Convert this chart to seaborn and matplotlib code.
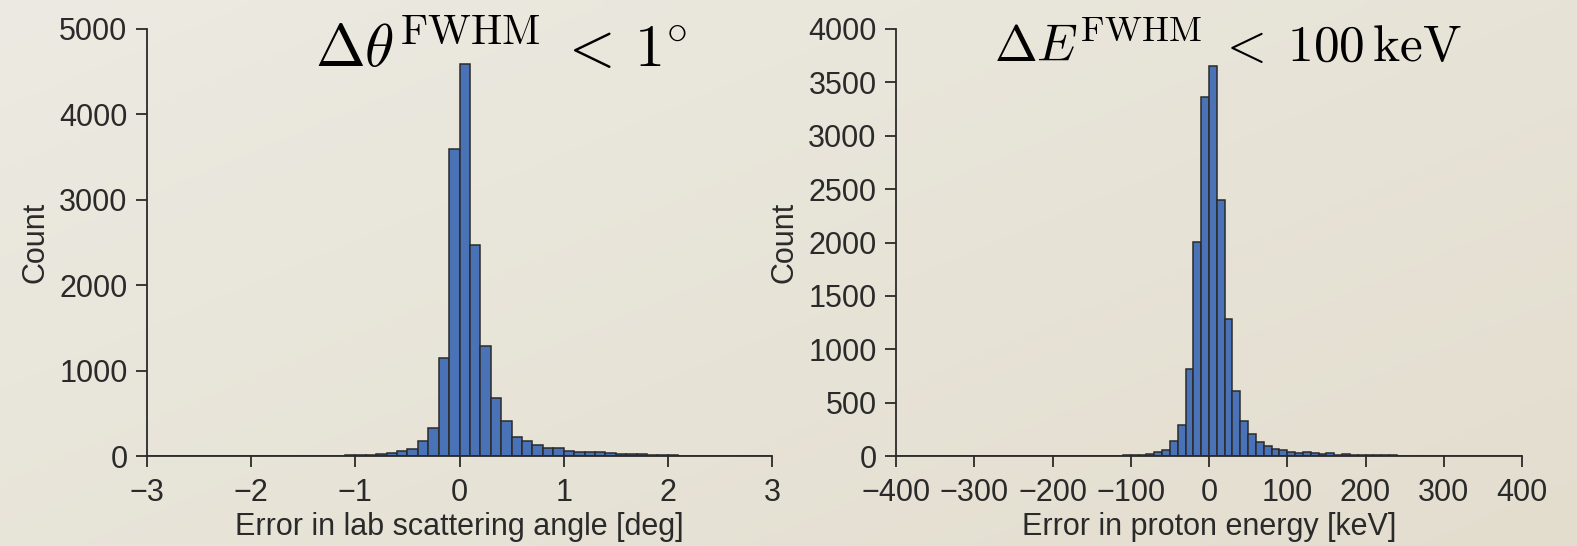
import numpy as np
import pandas as pd
import matplotlib
matplotlib.use("Agg")
import matplotlib.pyplot as plt
import seaborn as sns

# ---- data ----
angle_edges_lim = (-3.0, 3.0)
angle_bin_width = 0.1
angle_counts = [
    0, 0, 0, 0, 1, 0, 0, 1, 0, 1,
    1, 1, 1, 2, 2, 2, 3, 3, 4, 6,
    10, 16, 23, 35, 62, 82, 176, 332, 1145, 3600,
    4590, 2465, 1293, 680, 414, 219, 175, 123, 98, 92,
    64, 46, 43, 42, 31, 21, 20, 19, 12, 8,
    6, 5, 4, 3, 3, 2, 2, 1, 1, 1,
]
energy_edges_lim = (-400, 400)
energy_bin_width = 10
energy_counts = [
    0, 0, 0, 0, 0, 0, 0, 0, 0, 0,
    0, 0, 0, 1, 0, 1, 0, 1, 1, 1,
    1, 1, 2, 1, 2, 2, 3, 3, 4, 5,
    9, 12, 22, 34, 56, 144, 293, 815, 2001, 3360,
    3650, 2394, 1286, 608, 325, 206, 135, 98, 67, 53,
    40, 25, 33, 28, 19, 25, 9, 19, 9, 7,
    6, 6, 5, 5, 4, 4, 3, 3, 2, 2,
    2, 1, 1, 1, 1, 1, 0, 1, 0, 0,
]
angle_ticks = [-3, -2, -1, 0, 1, 2, 3]
angle_yticks = [0, 1000, 2000, 3000, 4000, 5000]
energy_ticks = [-400, -300, -200, -100, 0, 100, 200, 300, 400]
energy_yticks = [0, 500, 1000, 1500, 2000, 2500, 3000, 3500, 4000]
left_title = r"$\Delta\theta^{\mathrm{FWHM}}\;<\,1^{\circ}$"
right_title = r"$\Delta E^{\mathrm{FWHM}}\;<\;100\,\mathrm{keV}$"
left_xlabel = "Error in lab scattering angle [deg]"
right_xlabel = "Error in proton energy [keV]"

# ---- style ----
sns.set_theme(style="ticks")
plt.rcParams["font.family"] = ["Liberation Sans", "DejaVu Sans"]
plt.rcParams["mathtext.fontset"] = "cm"
plt.rcParams["axes.unicode_minus"] = True

BG = "#e9e5da"
BAR = "#4a72b6"
EDGE = "#2b2b2b"
INK = "#2a2a2a"
FS = 22

W, H = 1577, 546
fig = plt.figure(figsize=(W / 100, H / 100), dpi=100, facecolor=BG)

# subtle paper gradient
gy, gx = np.mgrid[0:1:60j, 0:1:160j]
grad = 0.55 * gx + 0.45 * gy
c0 = np.array([0.925, 0.918, 0.885])
c1 = np.array([0.890, 0.868, 0.808])
img = c0[None, None, :] * (1 - grad[..., None]) + c1[None, None, :] * grad[..., None]
bg_ax = fig.add_axes([0, 0, 1, 1], zorder=-10)
bg_ax.imshow(img, aspect="auto", extent=[0, 1, 0, 1], interpolation="bilinear", origin="upper")
bg_ax.axis("off")


def make_df(lim, width, counts):
    n = len(counts)
    centers = [lim[0] + width * (i + 0.5) for i in range(n)]
    return pd.DataFrame({"x": centers, "w": [float(c) for c in counts]})


bottom = 1 - 456 / H
top = 1 - 29 / H
ax1 = fig.add_axes([147 / W, bottom, (772 - 147) / W, top - bottom])
ax2 = fig.add_axes([896 / W, bottom, (1522 - 896) / W, top - bottom])

panels = [
    (ax1, angle_edges_lim, angle_bin_width, angle_counts, angle_ticks, angle_yticks,
     (0, 5000), left_xlabel, left_title, (0.269, 0.909), 43),
    (ax2, energy_edges_lim, energy_bin_width, energy_counts, energy_ticks, energy_yticks,
     (0, 4000), right_xlabel, right_title, (0.156, 0.923), 37),
]

for ax, lim, bw, counts, xt, yt, ylim, xlabel, title, tpos, tsize in panels:
    df = make_df(lim, bw, counts)
    ax.patch.set_alpha(0)
    sns.histplot(data=df, x="x", weights="w", binwidth=bw, binrange=lim, ax=ax,
                 color=BAR, edgecolor=EDGE, linewidth=1.1, alpha=1.0)
    ax.set_xlim(*lim)
    ax.set_ylim(*ylim)
    ax.set_xticks(xt)
    ax.set_yticks(yt)
    ax.set_xlabel(xlabel, fontsize=FS, color=INK, labelpad=3)
    ax.set_ylabel("Count", fontsize=FS, color=INK, labelpad=6)
    ax.tick_params(axis="both", labelsize=FS, colors=INK, length=8, width=1.3)
    ax.tick_params(axis="x", pad=8)
    ax.tick_params(axis="y", pad=6)
    for s in ("left", "bottom"):
        ax.spines[s].set_color(INK)
        ax.spines[s].set_linewidth(1.3)
    sns.despine(ax=ax)
    ax.text(tpos[0], tpos[1], title, transform=ax.transAxes, ha="left",
            va="baseline", fontsize=tsize, color="black", clip_on=False)

fig.savefig("out.png", dpi=100, facecolor=BG)
